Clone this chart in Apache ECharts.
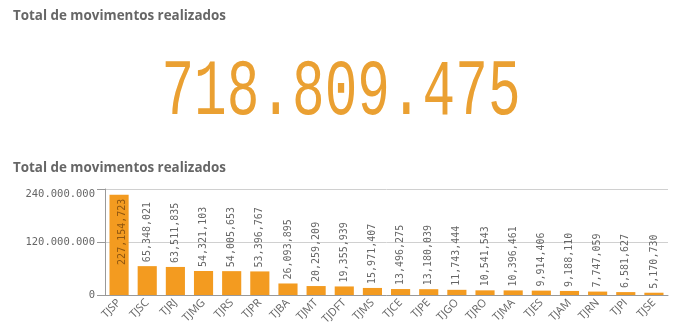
<!DOCTYPE html>
<html><head><meta charset="utf-8">
<script src="https://cdn.jsdelivr.net/npm/echarts@6/dist/echarts.min.js"></script>
<style>html,body{margin:0;padding:0;background:#fff}#c{width:676px;height:335px}</style>
</head><body><div id="c"></div>
<script>
const title = 'Total de movimentos realizados';
const totalText = '718.809.475';
const categories = ['TJSP','TJSC','TJRJ','TJMG','TJRS','TJPR','TJBA','TJMT','TJDFT','TJMS','TJCE','TJPE','TJGO','TJRO','TJMA','TJES','TJAM','TJRN','TJPI','TJSE'];
const values = [227154723,65348021,63511835,54321103,54005653,53396767,26093895,20259209,19355939,15971407,13496275,13180039,11743444,10541543,10396461,9914406,9188110,7747059,6581627,5170730];
const yTicks = [0,120000000,240000000];

const fmtComma = v => v.toLocaleString('en-US');
const fmtDot = v => v.toLocaleString('en-US').replace(/,/g,'.');

const chart = echarts.init(document.getElementById('c'));
const data = values.map((v,i)=>{
  if(i===0){
    return {value:v,label:{position:'insideTop',rotate:90,align:'right',verticalAlign:'middle',offset:[0,3],color:'#8f5610'}};
  }
  return v;
});
chart.setOption({
  animation:false,
  graphic:[
    {type:'text',left:13,top:10,style:{text:title,font:'bold 13.4px "Open Sans"',fill:'#666'}},
    {type:'text',left:13,top:162,style:{text:title,font:'bold 13.4px "Open Sans"',fill:'#666'}},
    {type:'text',x:341,y:93,scaleX:0.68,style:{text:totalText,font:'80px "Liberation Mono"',fill:'#eaa032',align:'center',verticalAlign:'middle',stroke:'#fff',lineWidth:2}}
  ],
  grid:{left:105,right:8,top:189,bottom:40,containLabel:false},
  xAxis:{type:'category',data:categories,
    axisLine:{lineStyle:{color:'#999'}},axisTick:{show:false},
    axisLabel:{rotate:45,interval:0,color:'#666',fontFamily:'Open Sans',fontSize:11,margin:6}},
  yAxis:{type:'value',min:0,max:240000000,interval:120000000,
    axisLine:{show:true,lineStyle:{color:'#999'}},
    axisTick:{show:true,length:8,lineStyle:{color:'#999'}},
    splitLine:{lineStyle:{color:'#d0d0d0'}},
    axisLabel:{color:'#666',fontFamily:'DejaVu Sans Mono',fontSize:10.5,margin:10,
      formatter:v=>fmtDot(v),verticalAlignMaxLabel:'top'}},
  series:[{type:'bar',data:data,barCategoryGap:'32%',
    itemStyle:{color:'#f39b20'},
    label:{show:true,position:'top',rotate:90,align:'left',verticalAlign:'middle',distance:4,
      color:'#666',fontFamily:'DejaVu Sans Mono',fontSize:10,formatter:p=>fmtComma(p.value)}}]
});
</script></body></html>
